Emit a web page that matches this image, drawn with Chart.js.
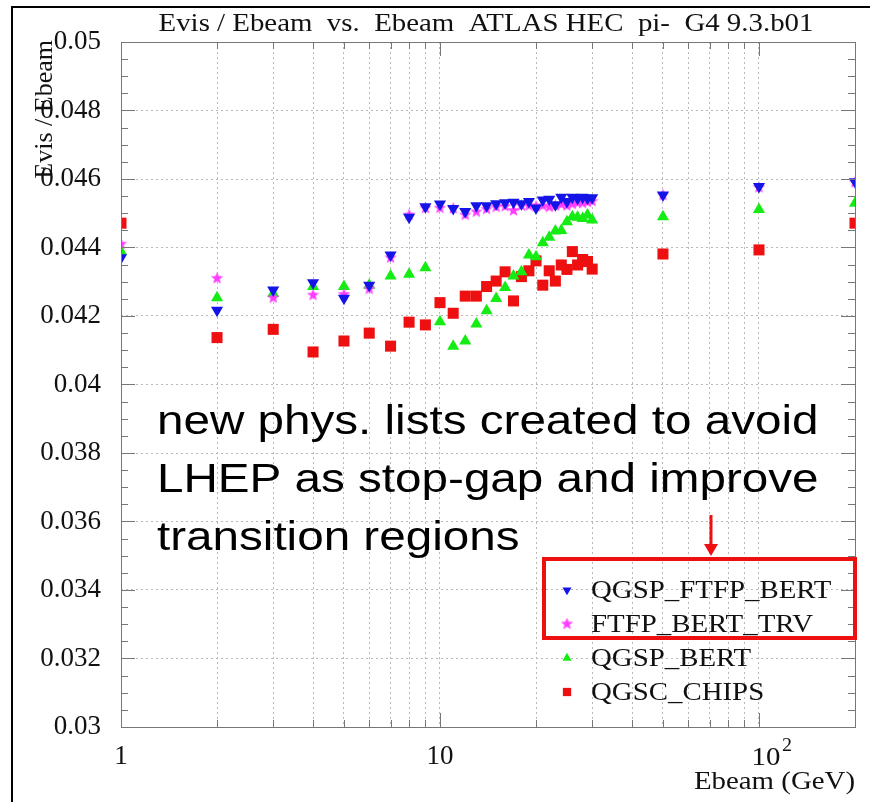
<!DOCTYPE html>
<html>
<head>
<meta charset="utf-8">
<script src="https://cdn.jsdelivr.net/npm/chart.js@4.4.1/dist/chart.umd.min.js"></script>
<style>
  html, body { margin: 0; padding: 0; background: #fff; }
  #wrap { position: relative; width: 870px; height: 802px; }
</style>
</head>
<body>
<div id="wrap"><canvas id="hec"></canvas></div>
<script>
// beam energies (GeV)
const energies = [1, 2, 3, 4, 5, 6, 7, 8, 9, 10,
  11, 12, 13, 14, 15, 16, 17, 18, 19, 20,
  21, 22, 23, 24, 25, 26, 27, 28, 29, 30, 50, 100, 200];

// Evis / Ebeam for each physics list
const qgspFtfpBert = [0.04370, 0.04217, 0.04276, 0.04297, 0.04252, 0.04290, 0.04378, 0.04488, 0.04519, 0.04527,
  0.04514, 0.04505, 0.04522, 0.04522, 0.04528, 0.04531, 0.04532, 0.04528, 0.04534, 0.04515,
  0.04539, 0.04541, 0.04525, 0.04547, 0.04534, 0.04547, 0.04543, 0.04547, 0.04544, 0.04545, 0.04553, 0.04578, 0.04592];
const ftfpBertTrv = [0.04410, 0.04310, 0.04253, 0.04261, 0.04263, 0.04279, 0.04370, 0.04495, 0.04515, 0.04515,
  0.04514, 0.04495, 0.04504, 0.04512, 0.04518, 0.04520, 0.04508, 0.04522, 0.04522, 0.04520,
  0.04522, 0.04518, 0.04522, 0.04526, 0.04522, 0.04527, 0.04530, 0.04530, 0.04533, 0.04535, 0.04553, 0.04575, 0.04590];
const qgspBert = [0.04388, 0.04253, 0.04266, 0.04286, 0.04286, 0.04290, 0.04317, 0.04322, 0.04341, 0.04183,
  0.04112, 0.04127, 0.04177, 0.04215, 0.04251, 0.04283, 0.04317, 0.04329, 0.04378, 0.04373,
  0.04414, 0.04430, 0.04448, 0.04450, 0.04475, 0.04490, 0.04488, 0.04485, 0.04495, 0.04480, 0.04490, 0.04511, 0.04529];
const qgscChips = [0.04471, 0.04137, 0.04161, 0.04095, 0.04127, 0.04150, 0.04112, 0.04182, 0.04174, 0.04239,
  0.04208, 0.04258, 0.04258, 0.04286, 0.04302, 0.04329, 0.04244, 0.04315, 0.04332, 0.04361,
  0.04290, 0.04332, 0.04302, 0.04349, 0.04336, 0.04388, 0.04349, 0.04365, 0.04359, 0.04337, 0.04381, 0.04393, 0.04471];

const seriesNames = ['QGSP_FTFP_BERT', 'FTFP_BERT_TRV', 'QGSP_BERT', 'QGSC_CHIPS'];
const xTickValues = [1, 2, 3, 4, 5, 6, 7, 8, 9, 10, 20, 30, 40, 50, 60, 70, 80, 90, 100, 200];
const xTickLabels = { 1: '1', 10: '10' };   // 10^2 is drawn by the plugin with a raised exponent
const titleText = 'Evis / Ebeam  vs.  Ebeam  ATLAS HEC  pi-  G4 9.3.b01';
const noteLines = ['new phys. lists created to avoid', 'LHEP as stop-gap and improve', 'transition regions'];

const SERIF = '"Liberation Serif", "Times New Roman", serif';
const SANS = '"Liberation Sans", Arial, sans-serif';
const STRETCH = 1.11;   // the original raster is a bit wider than tall

function starImage(color, size) {
  const c = document.createElement('canvas');
  c.width = size; c.height = size;
  const g = c.getContext('2d');
  const R = size / 2, r = R * 0.42;
  g.beginPath();
  for (let i = 0; i < 10; i++) {
    const a = -Math.PI / 2 + i * Math.PI / 5;
    const rad = i % 2 ? r : R;
    g.lineTo(R + rad * Math.cos(a), R + rad * Math.sin(a));
  }
  g.closePath();
  g.fillStyle = color;
  g.fill();
  return c;
}

const colors = ['#1414e6', '#ff3cff', '#14ec14', '#ee1010'];
const markers = [
  { pointStyle: 'triangle', rotation: 180, radius: 7 },
  { pointStyle: starImage(colors[1], 13), rotation: 0, radius: 6 },
  { pointStyle: 'triangle', rotation: 0, radius: 7 },
  { pointStyle: 'rect', rotation: 0, radius: 7.8 }
];
const allValues = [qgspFtfpBert, ftfpBertTrv, qgspBert, qgscChips];

const datasets = allValues.map((vals, i) => ({
  label: seriesNames[i],
  data: energies.map((e, k) => ({ x: e, y: vals[k] })),
  showLine: false,
  pointStyle: markers[i].pointStyle,
  pointRotation: markers[i].rotation,
  pointRadius: markers[i].radius,
  pointHoverRadius: markers[i].radius,
  pointBackgroundColor: colors[i],
  pointBorderColor: colors[i],
  pointBorderWidth: 0,
  clip: 0,
  order: i
}));

function stretchedText(ctx, text, x, y, align, sx) {
  ctx.save();
  ctx.translate(x, y);
  ctx.scale(sx || STRETCH, 1);
  ctx.textAlign = align;
  ctx.fillText(text, 0, 0);
  ctx.restore();
}

// frame, inner ticks, texts, legend, red box + arrow
const decorations = {
  id: 'decorations',
  afterDraw(chart) {
    const { ctx, chartArea: a, scales: { x, y } } = chart;
    ctx.save();

    // outer picture frame
    ctx.strokeStyle = '#000';
    ctx.lineWidth = 2;
    ctx.beginPath();
    ctx.moveTo(12, 802); ctx.lineTo(12, 7); ctx.lineTo(870, 7);
    ctx.stroke();

    // plot frame
    ctx.strokeStyle = '#777';
    ctx.lineWidth = 1;
    ctx.strokeRect(a.left + 0.5, a.top + 0.5, a.right - a.left, a.bottom - a.top);

    // ticks on all four sides, pointing in
    ctx.beginPath();
    for (let v = 0.03; v <= 0.05 + 1e-9; v += 0.0005) {
      const py = Math.round(y.getPixelForValue(v)) + 0.5;
      const major = Math.abs(v / 0.002 - Math.round(v / 0.002)) < 1e-6;
      const len = major ? 14 : 7;
      ctx.moveTo(a.left, py); ctx.lineTo(a.left + len, py);
      ctx.moveTo(a.right, py); ctx.lineTo(a.right - len, py);
    }
    xTickValues.forEach(v => {
      const px = Math.round(x.getPixelForValue(v)) + 0.5;
      const len = (v === 1 || v === 10 || v === 100) ? 14 : 7;
      ctx.moveTo(px, a.bottom); ctx.lineTo(px, a.bottom - len);
      ctx.moveTo(px, a.top); ctx.lineTo(px, a.top + len);
    });
    ctx.stroke();

    ctx.fillStyle = '#111';
    ctx.textBaseline = 'alphabetic';

    // 10^2 label
    const p100 = x.getPixelForValue(100);
    ctx.font = '26px ' + SERIF;
    stretchedText(ctx, '10', p100 + 7, 765, 'center');
    ctx.font = '18px ' + SERIF;
    stretchedText(ctx, '2', p100 + 28, 751, 'center');

    // title
    ctx.font = '26px ' + SERIF;
    stretchedText(ctx, titleText, 486, 31, 'center');

    // axis titles
    stretchedText(ctx, 'Ebeam (GeV)', a.right, 789, 'right');
    ctx.save();
    ctx.translate(52, 40);
    ctx.rotate(-Math.PI / 2);
    ctx.textAlign = 'right';
    ctx.fillText('Evis / Ebeam', 0, 0);
    ctx.restore();

    // annotation
    ctx.fillStyle = '#000';
    ctx.font = '40px ' + SANS;
    noteLines.forEach((t, i) => stretchedText(ctx, t, 157, 434 + i * 58, 'left', 1.19));

    // legend
    ctx.font = '26px ' + SERIF;
    ctx.textBaseline = 'middle';
    seriesNames.forEach((name, i) => {
      const ly = 590 + i * 34;
      ctx.fillStyle = colors[i];
      ctx.strokeStyle = colors[i];
      Chart.helpers.drawPoint(ctx, {
        pointStyle: markers[i].pointStyle,
        rotation: markers[i].rotation,
        radius: markers[i].radius * 0.75,
        borderWidth: 0
      }, 567, ly);
      ctx.fillStyle = '#111';
      stretchedText(ctx, name, 591, ly + 1, 'left');
    });

    // red highlight box and arrow
    ctx.strokeStyle = '#ee1010';
    ctx.fillStyle = '#ee1010';
    ctx.lineWidth = 4;
    ctx.strokeRect(544, 559, 311, 79);
    ctx.lineWidth = 3;
    ctx.beginPath();
    ctx.moveTo(711, 515); ctx.lineTo(711, 546);
    ctx.stroke();
    ctx.beginPath();
    ctx.moveTo(704, 544); ctx.lineTo(718, 544); ctx.lineTo(711, 556);
    ctx.closePath();
    ctx.fill();

    ctx.restore();
  }
};

const canvas = document.getElementById('hec');
canvas.width = 870;
canvas.height = 802;

new Chart(canvas, {
  type: 'scatter',
  data: { datasets },
  options: {
    responsive: false,
    animation: false,
    layout: { padding: { top: 42, right: 15, left: 0, bottom: 0 } },
    plugins: {
      legend: { display: false },
      tooltip: { enabled: false },
      title: { display: false }
    },
    scales: {
      x: {
        type: 'logarithmic',
        min: 1,
        max: 200,
        afterBuildTicks(scale) {
          scale.ticks = xTickValues.map(v => ({ value: v }));
        },
        afterFit(scale) { scale.height = 75; },
        grid: { color: '#b8b8b8', lineWidth: 1, drawTicks: false },
        border: { display: false, dash: [2, 3] },
        ticks: {
          autoSkip: false,
          maxRotation: 0,
          padding: 14,
          color: '#111',
          font: { family: SERIF, size: 27 },
          callback: (v) => xTickLabels[v] || ''
        }
      },
      y: {
        type: 'linear',
        min: 0.03,
        max: 0.05,
        afterFit(scale) { scale.width = 121; },
        grid: { color: '#b8b8b8', lineWidth: 1, drawTicks: false },
        border: { display: false, dash: [2, 3] },
        ticks: {
          stepSize: 0.002,
          padding: 20,
          color: '#111',
          font: { family: SERIF, size: 27 },
          callback: (v) => String(parseFloat(Number(v).toFixed(4)))
        }
      }
    }
  },
  plugins: [decorations]
});
</script>
</body>
</html>
